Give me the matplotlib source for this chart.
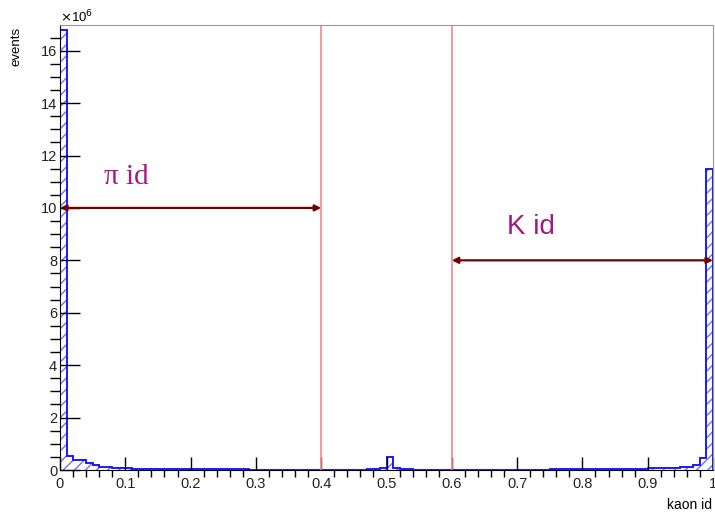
import numpy as np
import matplotlib
matplotlib.use("Agg")
import matplotlib.pyplot as plt

# kaon id histogram, 100 bins on [0, 1], counts in units of 1e6 events
bin_edges = np.linspace(0.0, 1.0, 101)
counts = [
    16.8, 0.55, 0.38, 0.38, 0.25, 0.20, 0.12, 0.12, 0.08, 0.08,   # 0.0-0.1
    0.06, 0.05, 0.05, 0.05, 0.05, 0.05, 0.05, 0.05, 0.05, 0.05,   # 0.1-0.2
    0.05, 0.05, 0.05, 0.05, 0.05, 0.05, 0.05, 0.05, 0.05, 0.0,    # 0.2-0.3
    0.0, 0.0, 0.0, 0.0, 0.0, 0.0, 0.0, 0.0, 0.0, 0.0,             # 0.3-0.4
    0.0, 0.0, 0.0, 0.0, 0.0, 0.0, 0.0, 0.05, 0.05, 0.08,          # 0.4-0.5
    0.50, 0.08, 0.05, 0.05, 0.0, 0.0, 0.0, 0.0, 0.0, 0.0,         # 0.5-0.6
    0.0, 0.0, 0.0, 0.0, 0.0, 0.0, 0.0, 0.0, 0.0, 0.0,             # 0.6-0.7
    0.0, 0.0, 0.0, 0.0, 0.0, 0.05, 0.05, 0.05, 0.05, 0.05,        # 0.7-0.8
    0.05, 0.05, 0.05, 0.05, 0.05, 0.05, 0.05, 0.05, 0.05, 0.05,   # 0.8-0.9
    0.06, 0.06, 0.06, 0.07, 0.08, 0.10, 0.12, 0.20, 0.45, 11.5,   # 0.9-1.0
]

cut_lines = [0.4, 0.6]
pi_range = (0.0, 0.4, 10.0)
k_range = (0.6, 1.0, 8.0)
x_ticks = [0, 0.1, 0.2, 0.3, 0.4, 0.5, 0.6, 0.7, 0.8, 0.9, 1]
x_tick_labels = ["0", "0.1", "0.2", "0.3", "0.4", "0.5", "0.6", "0.7", "0.8", "0.9", "1"]
y_ticks = [0, 2, 4, 6, 8, 10, 12, 14, 16]

plt.rcParams["font.family"] = ["Liberation Sans", "DejaVu Sans"]
plt.rcParams["hatch.linewidth"] = 1.0

fig = plt.figure(figsize=(7.15, 5.13), dpi=100)
ax = fig.add_axes([60 / 715, 1 - 470 / 513, 653 / 715, 445 / 513])

# hatched fill + blue outline
ax.stairs(counts, bin_edges, fill=True, facecolor="none", edgecolor="#6f6fff",
          hatch="///", linewidth=0)
ax.stairs(counts, bin_edges, color="#1a1aff", linewidth=1.4)

for xc in cut_lines:
    ax.axvline(xc, color="#f08a80", linewidth=1.2)

for x0, x1, y in (pi_range, k_range):
    ax.annotate("", xy=(x1, y), xytext=(x0, y),
                arrowprops=dict(arrowstyle="<|-|>", color="#700000", lw=1.6,
                                mutation_scale=9, shrinkA=0, shrinkB=0))

ax.text(0.068, 10.9, "\u03c0 id", color="#a01a80", fontsize=21,
        family=["Liberation Serif", "DejaVu Serif"])
ax.text(0.684, 9.0, "K id", color="#a01a80", fontsize=20)

ax.set_xlim(0, 1)
ax.set_ylim(0, 16.98)
ax.set_xticks(x_ticks)
ax.set_xticklabels(x_tick_labels)
ax.set_xticks(np.arange(0, 1.001, 0.02), minor=True)
ax.set_yticks(y_ticks)
ax.set_yticks(np.arange(0, 17, 0.5), minor=True)

ax.tick_params(axis="both", direction="in", labelsize=10.5, colors="black",
               labelcolor="#222222")
ax.tick_params(axis="x", which="major", length=9.5, width=1, pad=5)
ax.tick_params(axis="x", which="minor", length=5, width=1)
ax.tick_params(axis="y", which="major", length=14.5, width=1, pad=2)
ax.tick_params(axis="y", which="minor", length=7, width=1)

ax.spines["top"].set_color("#999999")
ax.spines["right"].set_color("#999999")

fig.text(60 / 715, 1 - 17 / 513, r"$\times$10$^{6}$", fontsize=9.5, va="center", ha="left")
fig.text(10 / 715, 1 - 27 / 513, "events", rotation=90, fontsize=9.5, ha="left", va="top")
fig.text(712 / 715, 1 - 505 / 513, "kaon id", fontsize=10, ha="right", va="center")

fig.savefig("out.png", dpi=100)
